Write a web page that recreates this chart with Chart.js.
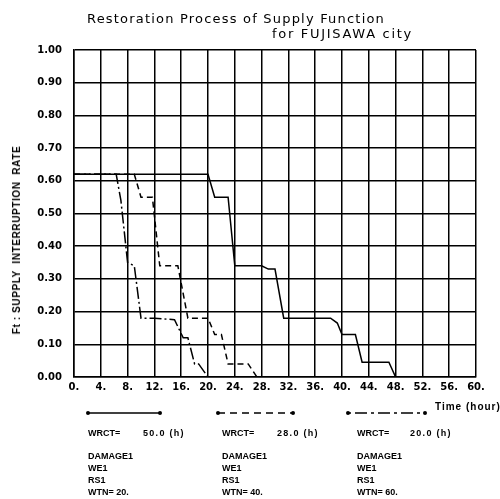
<!DOCTYPE html>
<html>
<head>
<meta charset="utf-8">
<script src="https://cdn.jsdelivr.net/npm/chart.js@4/dist/chart.umd.min.js"></script>
<style>
  body { margin: 0; background: #fff; }
  #wrap { position: relative; width: 500px; height: 499px; overflow: hidden; }
  canvas { position: absolute; left: 0; top: 0; }
  .txt { position: absolute; white-space: pre; color: #000; font-family: "Liberation Sans", Arial, sans-serif; font-weight: bold; font-size: 9px; line-height: 10px; }
  .title { font-family: "DejaVu Sans", sans-serif; font-weight: normal; font-size: 13px; line-height: 14px; letter-spacing: 1.2px; }
  .ytitle { font-size: 10px; letter-spacing: 0.6px; transform: translate(-50%, -50%) rotate(-90deg); }
</style>
</head>
<body>
<div id="wrap">
  <canvas id="chart" width="500" height="499"></canvas>

  <div class="txt title" style="left:87px; top:12px;">Restoration Process of Supply Function</div>
  <div class="txt title" style="left:272px; top:27px; letter-spacing:1.7px;">for FUJISAWA city</div>
  <div class="txt ytitle" style="left:17px; top:240px;">Ft : SUPPLY  INTERRUPTION  RATE</div>
  <div class="txt" style="left:435px; top:402px; font-size:10px; letter-spacing:1px;">Time (hour)</div>

  <!-- legend texts -->
  <div class="txt" style="left:88px; top:428px;">WRCT=</div>
  <div class="txt" style="left:143px; top:428px; letter-spacing:1.3px;">50.0 (h)</div>
  <div class="txt" style="left:88px; top:450px; line-height:12px;">DAMAGE1<br>WE1<br>RS1<br>WTN= 20.</div>

  <div class="txt" style="left:222px; top:428px;">WRCT=</div>
  <div class="txt" style="left:277px; top:428px; letter-spacing:1.3px;">28.0 (h)</div>
  <div class="txt" style="left:222px; top:450px; line-height:12px;">DAMAGE1<br>WE1<br>RS1<br>WTN= 40.</div>

  <div class="txt" style="left:357px; top:428px;">WRCT=</div>
  <div class="txt" style="left:410px; top:428px; letter-spacing:1.3px;">20.0 (h)</div>
  <div class="txt" style="left:357px; top:450px; line-height:12px;">DAMAGE1<br>WE1<br>RS1<br>WTN= 60.</div>
</div>

<script>
// Data (time in hours, supply interruption rate)
const xTicks = [0, 4, 8, 12, 16, 20, 24, 28, 32, 36, 40, 44, 48, 52, 56, 60];
const yTicks = [0, 0.1, 0.2, 0.3, 0.4, 0.5, 0.6, 0.7, 0.8, 0.9, 1.0];

// WTN = 20, WRCT = 50.0 h (solid)
const wtn20Time = [0, 20, 21, 23, 24, 28, 29, 30, 31.3, 38.3, 39.3, 40, 42, 43, 47, 48];
const wtn20Rate = [0.62, 0.62, 0.55, 0.55, 0.34, 0.34, 0.33, 0.33, 0.18, 0.18, 0.165, 0.13, 0.13, 0.045, 0.045, 0];

// WTN = 40, WRCT = 28.0 h (dashed)
const wtn40Time = [0, 9, 10, 11.7, 12.8, 15.5, 17, 20, 21, 22, 23, 26, 27.3];
const wtn40Rate = [0.62, 0.62, 0.55, 0.55, 0.34, 0.34, 0.18, 0.18, 0.13, 0.13, 0.04, 0.04, 0];

// WTN = 60, WRCT = 20.0 h (dash-dot)
const wtn60Time = [0, 6.3, 7, 8, 9, 10, 12, 15, 16.3, 17, 18, 18.6, 20];
const wtn60Rate = [0.62, 0.62, 0.54, 0.35, 0.34, 0.18, 0.18, 0.175, 0.12, 0.12, 0.04, 0.04, 0];

const toPoints = (ts, vs) => ts.map((t, i) => ({ x: t, y: vs[i] }));

// legend line samples under the plot
const legendLines = {
  id: "legendLines",
  afterDraw(chart) {
    const c = chart.ctx;
    const items = [
      { x0: 88, x1: 160, dash: [] },
      { x0: 218, x1: 293, dash: [7, 5] },
      { x0: 348, x1: 425, dash: [3, 4, 12, 4] }
    ];
    c.save();
    c.strokeStyle = "#000";
    c.fillStyle = "#000";
    c.lineWidth = 1.5;
    items.forEach(it => {
      c.setLineDash(it.dash);
      c.beginPath();
      c.moveTo(it.x0, 413);
      c.lineTo(it.x1, 413);
      c.stroke();
      c.setLineDash([]);
      [it.x0, it.x1].forEach(px => {
        c.beginPath();
        c.arc(px, 413, 2, 0, Math.PI * 2);
        c.fill();
      });
    });
    c.restore();
  }
};

const tickFont = { family: "DejaVu Sans", size: 10, weight: "bold" };

new Chart(document.getElementById("chart"), {
  type: "line",
  data: {
    datasets: [
      { label: "WTN=20", data: toPoints(wtn20Time, wtn20Rate), borderColor: "#000", borderWidth: 1.5, pointRadius: 0, tension: 0 },
      { label: "WTN=40", data: toPoints(wtn40Time, wtn40Rate), borderColor: "#000", borderWidth: 1.5, borderDash: [6, 4], pointRadius: 0, tension: 0 },
      { label: "WTN=60", data: toPoints(wtn60Time, wtn60Rate), borderColor: "#000", borderWidth: 1.5, borderDash: [12, 3, 2, 3], pointRadius: 0, tension: 0 }
    ]
  },
  options: {
    responsive: false,
    animation: false,
    layout: { padding: { left: 0, top: 50, right: 24, bottom: 102 } },
    plugins: { legend: { display: false }, tooltip: { enabled: false } },
    scales: {
      x: {
        type: "linear",
        min: xTicks[0],
        max: xTicks[xTicks.length - 1],
        afterBuildTicks: s => { s.ticks = xTicks.map(v => ({ value: v })); },
        afterFit: s => { s.height = 20; },
        grid: { color: "#000", lineWidth: 1.5, drawTicks: false },
        border: { color: "#000", width: 1.5 },
        ticks: { color: "#000", font: tickFont, padding: 4, maxRotation: 0, autoSkip: false, callback: v => v + "." }
      },
      y: {
        min: yTicks[0],
        max: yTicks[yTicks.length - 1],
        afterBuildTicks: s => { s.ticks = yTicks.map(v => ({ value: v })); },
        afterFit: s => { s.width = 74; },
        grid: { color: "#000", lineWidth: 1.5, drawTicks: false },
        border: { color: "#000", width: 1.5 },
        ticks: { color: "#000", font: tickFont, padding: 12, autoSkip: false, callback: v => v.toFixed(2) }
      }
    }
  },
  plugins: [legendLines]
});
</script>
</body>
</html>
